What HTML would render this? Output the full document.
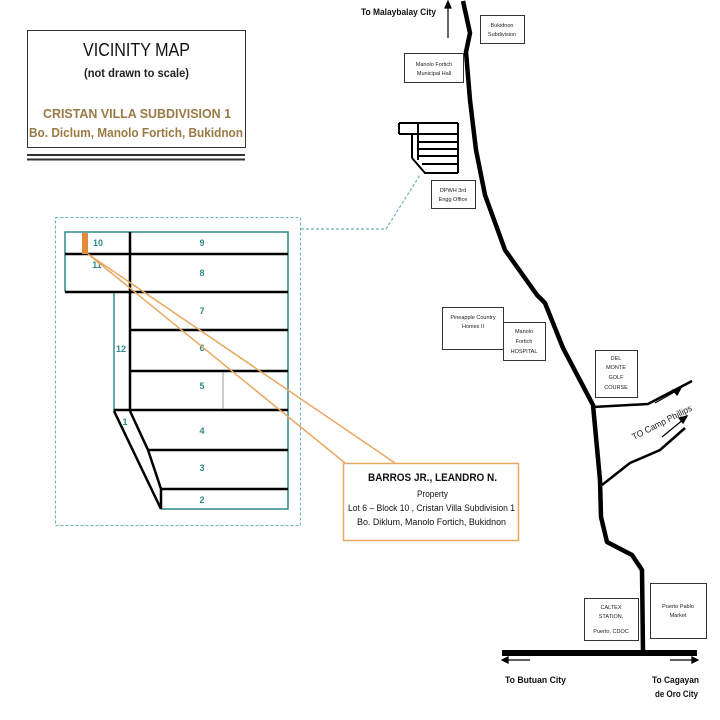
<!DOCTYPE html>
<html><head><meta charset="utf-8"><style>
html,body{margin:0;padding:0;background:#fff}
svg{display:block}
text{font-family:"Liberation Sans",sans-serif}
</style></head><body>
<svg width="720" height="720" viewBox="0 0 720 720" xmlns="http://www.w3.org/2000/svg">
<!-- title -->
<rect x="27.5" y="30.5" width="218" height="117" fill="#fff" stroke="#333" stroke-width="1"/>
<text x="83" y="56" font-size="18" fill="#111" textLength="107" lengthAdjust="spacingAndGlyphs">VICINITY MAP</text>
<text x="84" y="77" font-size="12" font-weight="bold" fill="#222" textLength="105" lengthAdjust="spacingAndGlyphs">(not drawn to scale)</text>
<text x="43" y="118" font-size="13" font-weight="bold" fill="#9a7a44" textLength="188" lengthAdjust="spacingAndGlyphs">CRISTAN VILLA SUBDIVISION 1</text>
<text x="29" y="137" font-size="13" font-weight="bold" fill="#9a7a44" textLength="214" lengthAdjust="spacingAndGlyphs">Bo. Diclum, Manolo Fortich, Bukidnon</text>
<line x1="27" y1="155" x2="245" y2="155" stroke="#333" stroke-width="2"/>
<line x1="27" y1="159.5" x2="245" y2="159.5" stroke="#333" stroke-width="2"/>

<!-- inset dashed -->
<rect x="55.5" y="217.5" width="245" height="308" fill="none" stroke="#6bb5b5" stroke-width="1" stroke-dasharray="3,2"/>
<polyline points="301,229 386,229 420,175" fill="none" stroke="#6bb5b5" stroke-width="1.2" stroke-dasharray="3,2"/>

<!-- plat teal outlines -->
<g fill="none" stroke="#2e8a8a" stroke-width="1.5">
<polyline points="65,292 65,232 288,232 288,509 161,509"/>
<polyline points="114,292 114,411"/>
</g>
<g stroke="#000" stroke-width="2.5" fill="none">
<line x1="65" y1="254" x2="288" y2="254"/>
<line x1="65" y1="292" x2="288" y2="292"/>
<line x1="130" y1="232" x2="130" y2="411"/>
<line x1="130" y1="330" x2="288" y2="330"/>
<line x1="130" y1="371" x2="288" y2="371"/>
<line x1="114" y1="410" x2="288" y2="410"/>
<line x1="148" y1="450" x2="288" y2="450"/>
<line x1="161" y1="489" x2="288" y2="489"/>
<line x1="114" y1="411" x2="161" y2="509"/>
<polyline points="130,411 148,450 161,489 161,509"/>
</g>
<line x1="223" y1="372" x2="223" y2="409" stroke="#999" stroke-width="1"/>
<rect x="82" y="233" width="6" height="21" fill="#e08a3a"/>
<g font-size="9" font-weight="bold" fill="#2e8a8a" text-anchor="middle">
<text x="98" y="246">10</text><text x="202" y="246">9</text>
<text x="97" y="268">11</text><text x="202" y="276">8</text>
<text x="202" y="314">7</text><text x="202" y="351">6</text>
<text x="121" y="352">12</text><text x="202" y="389">5</text>
<text x="202" y="434">4</text><text x="202" y="471">3</text>
<text x="125" y="425">1</text><text x="202" y="503">2</text>
</g>
<line x1="88" y1="254" x2="345" y2="463" stroke="#e8a860" stroke-width="1.5"/>
<line x1="88" y1="254" x2="395" y2="463" stroke="#e8a860" stroke-width="1.5"/>

<!-- property box -->
<rect x="343.5" y="463.5" width="175" height="77" fill="#fff" stroke="#e8a860" stroke-width="1.5"/>
<text x="368" y="481" font-size="11" font-weight="bold" fill="#111" textLength="129" lengthAdjust="spacingAndGlyphs">BARROS JR., LEANDRO N.</text>
<text x="417" y="497" font-size="9.5" fill="#111" textLength="31" lengthAdjust="spacingAndGlyphs">Property</text>
<text x="348" y="511" font-size="9.5" fill="#111" textLength="167" lengthAdjust="spacingAndGlyphs">Lot 6 – Block 10 , Cristan Villa Subdivision 1</text>
<text x="357" y="525" font-size="9.5" fill="#111" textLength="149" lengthAdjust="spacingAndGlyphs">Bo. Diklum, Manolo Fortich, Bukidnon</text>

<!-- main road -->
<polyline points="463,1 470,33 466,52 470,100 476,150 485,195 505,250 537,295 545,303 563,348 593,405 600,480 601,517 607,542 632,555 642,570 643,652" fill="none" stroke="#000" stroke-width="4.5" stroke-linejoin="round"/>
<line x1="502" y1="653" x2="697" y2="653" stroke="#000" stroke-width="6"/>
<!-- branches -->
<polyline points="593,407 648,404 692,381" fill="none" stroke="#000" stroke-width="2.5"/>
<polyline points="602,485 630,463 660,450 685,428" fill="none" stroke="#000" stroke-width="2.5"/>
<g stroke="#000" stroke-width="1.2">
<line x1="655" y1="403" x2="678" y2="390"/><polygon points="681,388 673,390 677,395" fill="#000"/>
<line x1="662" y1="437" x2="684" y2="419"/><polygon points="687,416 679,418 683,423" fill="#000"/>
<line x1="448" y1="38" x2="448" y2="6"/><polygon points="448,1 445,8 451,8" fill="#000"/>
<line x1="505" y1="660" x2="530" y2="660"/><polygon points="502,660 508,657 508,663" fill="#000"/>
<line x1="670" y1="660" x2="694" y2="660"/><polygon points="698,660 692,657 692,663" fill="#000"/>
</g>
<text x="0" y="0" font-size="9" fill="#222" transform="translate(634,440) rotate(-27)" textLength="66" lengthAdjust="spacingAndGlyphs">TO Camp Phillips</text>

<text x="361" y="15" font-size="9" font-weight="bold" fill="#111" textLength="75" lengthAdjust="spacingAndGlyphs">To Malaybalay City</text>
<text x="505" y="683" font-size="9" font-weight="bold" fill="#111" textLength="61" lengthAdjust="spacingAndGlyphs">To Butuan  City</text>
<text x="652" y="683" font-size="9" font-weight="bold" fill="#111" textLength="47" lengthAdjust="spacingAndGlyphs">To  Cagayan</text>
<text x="655" y="697" font-size="9" font-weight="bold" fill="#111" textLength="43" lengthAdjust="spacingAndGlyphs">de Oro City</text>

<!-- thumbnail plat -->
<g stroke="#000" fill="none">
<line x1="399" y1="123" x2="458" y2="123" stroke-width="2"/>
<line x1="399" y1="134" x2="458" y2="134" stroke-width="2"/>
<line x1="399" y1="123" x2="399" y2="134" stroke-width="2"/>
<line x1="458" y1="123" x2="458" y2="173" stroke-width="2"/>
<line x1="418" y1="123" x2="418" y2="160" stroke-width="2"/>
<line x1="412" y1="134" x2="412" y2="158" stroke-width="2"/>
<line x1="418" y1="142" x2="458" y2="142" stroke-width="2"/>
<line x1="418" y1="149" x2="458" y2="149" stroke-width="2"/>
<line x1="418" y1="156" x2="458" y2="156" stroke-width="2"/>
<line x1="422" y1="164" x2="458" y2="164" stroke-width="2"/>
<polyline points="412,158 425,173 458,173" stroke-width="2"/>
</g>

<!-- landmark boxes -->
<g fill="#fff" stroke="#333" stroke-width="1">
<rect x="480.5" y="15.5" width="44" height="28"/>
<rect x="404.5" y="53.5" width="59" height="29"/>
<rect x="431.5" y="180.5" width="44" height="28"/>
<rect x="442.5" y="307.5" width="61" height="42"/>
<rect x="503.5" y="322.5" width="42" height="38"/>
<rect x="595.5" y="350.5" width="42" height="47"/>
<rect x="584.5" y="598.5" width="54" height="42"/>
<rect x="650.5" y="583.5" width="56" height="55"/>
</g>
<g font-size="5.5" text-anchor="middle" fill="#222">
<text x="502" y="27">Bukidnon</text><text x="502" y="36">Subdivision</text>
<text x="434" y="66">Manolo Fortich</text><text x="434" y="75">Municipal Hall</text>
<text x="453" y="192">DPWH 3rd</text><text x="453" y="201">Engg Office</text>
<text x="473" y="319">Pineapple Country</text><text x="473" y="328">Homes II</text>
<text x="524" y="333">Manolo</text><text x="524" y="343">Fortich</text><text x="524" y="353">HOSPITAL</text>
<text x="616" y="360">DEL</text><text x="616" y="369">MONTE</text><text x="616" y="379">GOLF</text><text x="616" y="389">COURSE</text>
<text x="611" y="609">CALTEX</text><text x="611" y="618">STATION,</text><text x="611" y="633">Puerto, CDOC</text>
<text x="678" y="608">Puerto Pablo</text><text x="678" y="617">Market</text>
</g>
</svg>
</body></html>
